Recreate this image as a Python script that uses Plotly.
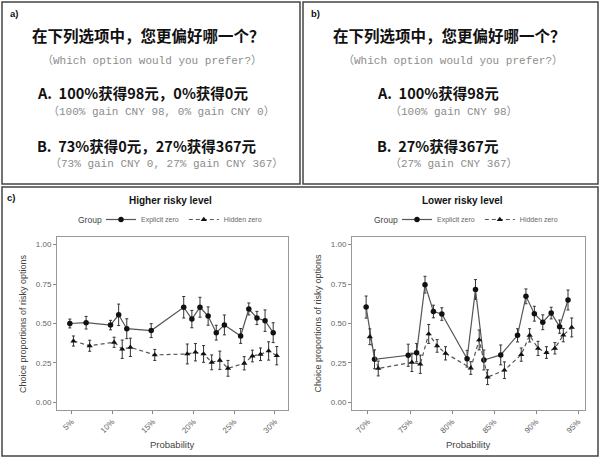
import plotly.graph_objects as go

W, H = 600, 458

# ---------------- data ----------------
hi_prob = [5, 7, 10, 11, 12, 15, 19, 20, 21, 22, 23, 24, 26, 27, 28, 29, 30]
hi_explicit = [0.500, 0.505, 0.490, 0.555, 0.467, 0.455, 0.603, 0.528, 0.603, 0.547,
               0.442, 0.491, 0.421, 0.592, 0.535, 0.518, 0.442]
hi_explicit_err = [0.028, 0.040, 0.030, 0.068, 0.063, 0.044, 0.068, 0.055, 0.063, 0.058,
                   0.047, 0.063, 0.047, 0.038, 0.042, 0.068, 0.063]
hi_hidden = [0.389, 0.359, 0.381, 0.337, 0.349, 0.301, 0.307, 0.318, 0.307, 0.254,
             0.267, 0.216, 0.248, 0.294, 0.305, 0.326, 0.296]
hi_hidden_err = [0.032, 0.035, 0.032, 0.058, 0.058, 0.035, 0.063, 0.055, 0.053, 0.047,
                 0.058, 0.050, 0.042, 0.037, 0.040, 0.058, 0.058]

lo_prob = [70, 71, 75, 76, 77, 78, 79, 82, 83, 84, 86, 88, 89, 90, 91, 92, 93, 94]
lo_explicit = [0.604, 0.273, 0.299, 0.315, 0.746, 0.576, 0.560, 0.277, 0.715, 0.269,
               0.301, 0.425, 0.672, 0.562, 0.508, 0.566, 0.480, 0.649]
lo_explicit_err = [0.070, 0.060, 0.070, 0.058, 0.053, 0.040, 0.040, 0.053, 0.063, 0.063,
                   0.063, 0.042, 0.047, 0.047, 0.047, 0.037, 0.042, 0.063]
lo_hidden = [0.416, 0.215, 0.254, 0.242, 0.434, 0.358, 0.311, 0.218, 0.396, 0.160,
             0.204, 0.303, 0.425, 0.342, 0.316, 0.343, 0.426, 0.475]
lo_hidden_err = [0.050, 0.047, 0.058, 0.058, 0.060, 0.040, 0.042, 0.040, 0.063, 0.047,
                 0.053, 0.042, 0.042, 0.045, 0.037, 0.036, 0.042, 0.060]

hi_ticks = [5, 10, 15, 20, 25, 30]
lo_ticks = [70, 75, 80, 85, 90, 95]
y_ticks = [0, 0.25, 0.5, 0.75, 1.0]
y_ticklabels = ["0.00", "0.25", "0.50", "0.75", "1.00"]
group_names = ["Explicit zero", "Hidden zero"]
legend_title = "Group"

title_cn = "在下列选项中，您更偏好哪一个？"
title_en = "（Which option would you prefer?）"
a_opts = ["A.\u00a0\u00a0100%获得98元，0%获得0元", "B.\u00a0\u00a073%获得0元，27%获得367元"]
a_subs = ["（100% gain CNY 98, 0% gain CNY 0）", "（73% gain CNY 0, 27% gain CNY 367）"]
b_opts = ["A.\u00a0\u00a0100%获得98元", "B.\u00a0\u00a027%获得367元"]
b_subs = ["（100% gain CNY 98）", "（27% gain CNY 367）"]

# ---------------- helpers ----------------
def px(x):
    return x / W

def py(y):
    return 1 - y / H

DODGE = 0.22
SANS = "Liberation Sans, Arial, sans-serif"
CJK = "Noto Sans CJK SC, sans-serif"
MONO = "Liberation Mono, Noto Sans CJK SC, monospace"

fig = go.Figure()

def add_group(prob, vals, err, name, xa, ya, leg, symbol, dash, offset):
    fig.add_trace(go.Scatter(
        x=[p + offset for p in prob], y=vals,
        error_y=dict(type="data", array=err, visible=True, thickness=1, width=1.5, color="#333"),
        mode="lines+markers", name=name, legend=leg,
        line=dict(color="#555", width=1.2, dash=dash),
        marker=dict(symbol=symbol, size=5.5, color="#111"),
        xaxis=xa, yaxis=ya,
    ))

add_group(hi_prob, hi_explicit, hi_explicit_err, group_names[0], "x", "y", "legend", "circle", "solid", -DODGE)
add_group(hi_prob, hi_hidden, hi_hidden_err, group_names[1], "x", "y", "legend", "triangle-up", "4px,3px", DODGE)
add_group(lo_prob, lo_explicit, lo_explicit_err, group_names[0], "x2", "y2", "legend2", "circle", "solid", -DODGE)
add_group(lo_prob, lo_hidden, lo_hidden_err, group_names[1], "x2", "y2", "legend2", "triangle-up", "4px,3px", DODGE)

axis_common = dict(showline=True, mirror=True, linecolor="#999", linewidth=1,
                   showgrid=False, zeroline=False, ticks="outside", ticklen=3,
                   tickcolor="#888", tickwidth=1, automargin=False,
                   tickfont=dict(family=SANS, size=8, color="#666"))

ydom = [py(410), py(237)]
fig.update_layout(
    xaxis=dict(domain=[px(57), px(288)], range=[3.2, 31.6], anchor="y",
               tickvals=hi_ticks, ticktext=[f"{t}%" for t in hi_ticks], tickangle=-45, **axis_common),
    yaxis=dict(domain=ydom, range=[-0.048, 1.048], anchor="x",
               tickvals=y_ticks, ticktext=y_ticklabels, **axis_common),
    xaxis2=dict(domain=[px(352), px(585)], range=[68.1, 95.8], anchor="y2",
                tickvals=lo_ticks, ticktext=[f"{t}%" for t in lo_ticks], tickangle=-45, **axis_common),
    yaxis2=dict(domain=ydom, range=[-0.048, 1.048], anchor="x2",
                tickvals=y_ticks, ticktext=y_ticklabels, **axis_common),
)

legend_common = dict(orientation="h", yanchor="middle", xanchor="left",
                     font=dict(family=SANS, size=7, color="#666"),
                     bgcolor="rgba(0,0,0,0)", itemwidth=30, tracegroupgap=0)
fig.update_layout(
    legend=dict(x=px(101), y=py(219.5), **legend_common),
    legend2=dict(x=px(397), y=py(219.5), **legend_common),
)

ann = []
def text(x, y, s, size, color="#111", family=SANS, xanchor="center", bold=False):
    ann.append(dict(x=px(x), y=py(y), xref="paper", yref="paper", text=(f"<b>{s}</b>" if bold else s),
                    showarrow=False, xanchor=xanchor, yanchor="middle",
                    font=dict(family=family, size=size, color=color)))

# panel labels
text(8, 14, "a)", 9.5, xanchor="left", bold=True)
text(309, 14, "b)", 9.5, xanchor="left", bold=True)
text(5, 197, "c)", 9.5, xanchor="left", bold=True)

GRAY = "#8c8c8c"
# panel a
text(148, 35, title_cn, 15.5, family=CJK, bold=True)
text(152, 60.5, title_en, 11, family=MONO, color=GRAY)
text(35, 93, a_opts[0], 14.5, family=CJK, xanchor="left", bold=True)
text(46, 111.5, a_subs[0], 11, family=MONO, color=GRAY, xanchor="left")
text(35, 145, a_opts[1], 14.5, family=CJK, xanchor="left", bold=True)
text(48, 164, a_subs[1], 11, family=MONO, color=GRAY, xanchor="left")

# panel b
text(449, 35, title_cn, 15.5, family=CJK, bold=True)
text(453, 60.5, title_en, 11, family=MONO, color=GRAY)
text(375, 93, b_opts[0], 14.5, family=CJK, xanchor="left", bold=True)
text(388, 111.5, b_subs[0], 11, family=MONO, color=GRAY, xanchor="left")
text(375, 145, b_opts[1], 14.5, family=CJK, xanchor="left", bold=True)
text(388, 164, b_subs[1], 11, family=MONO, color=GRAY, xanchor="left")

# chart titles, legend titles & axis titles
text(170, 200.5, "Higher risky level", 10, bold=True)
text(462.5, 200.5, "Lower risky level", 10, bold=True)
text(104, 219.5, legend_title, 8.5, color="#444", xanchor="right")
text(400, 219.5, legend_title, 8.5, color="#444", xanchor="right")
text(172.5, 444, "Probability", 9.5, color="#444")
text(468.5, 444, "Probability", 9.5, color="#444")
for xx in (22.5, 317):
    ann.append(dict(x=px(xx), y=py(323.5), xref="paper", yref="paper",
                    text="Choice proportions of risky options", textangle=-90,
                    showarrow=False, xanchor="center", yanchor="middle",
                    font=dict(family=SANS, size=9, color="#444")))

shapes = []
def rect(x0, y0, x1, y1):
    shapes.append(dict(type="rect", xref="paper", yref="paper",
                       x0=px(x0), x1=px(x1), y0=py(y1), y1=py(y0),
                       line=dict(color="#444", width=1.5)))
rect(2, 2, 300, 184)
rect(303, 2, 598, 184)
rect(2, 187, 598, 456)

fig.update_layout(width=W, height=H, margin=dict(l=0, r=0, t=0, b=0),
                  paper_bgcolor="white", plot_bgcolor="white",
                  annotations=ann, shapes=shapes, showlegend=True)

fig.write_html("out.html")
